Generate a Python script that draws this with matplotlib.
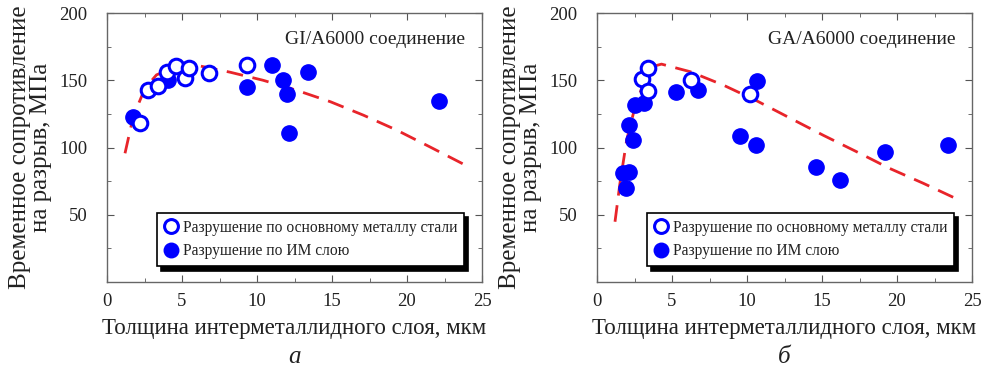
import matplotlib.pyplot as plt

plt.rcParams['font.family'] = ['Liberation Serif', 'DejaVu Serif']

# --- GI/A6000 data ---
gi_open_x = [2.2, 2.75, 3.4, 4.0, 4.6, 5.2, 5.47, 6.8, 9.3]
gi_open_y = [118, 142.7, 146, 156, 160.8, 152, 159, 155.6, 161]
gi_fill_x = [1.7, 4.04, 9.35, 11.0, 11.7, 12.0, 12.1, 13.4, 22.1]
gi_fill_y = [122.4, 150, 145, 161, 150, 139.5, 111, 156.3, 134.6]
gi_curve_x = [1.2, 1.75, 2.53, 3.3, 4.64, 6.2, 8.2, 10.4, 12.6, 14.9, 17.1, 19.3, 21.5, 24.1]
gi_curve_y = [95.7, 123, 144, 154, 160, 160.6, 156, 150, 142.7, 134, 124, 113, 100.6, 85.7]

# --- GA/A6000 data ---
ga_open_x = [3.0, 3.4, 3.4, 6.25, 10.2]
ga_open_y = [150.7, 159.3, 142.2, 150, 139.5]
ga_fill_x = [1.75, 2.15, 1.93, 2.1, 2.42, 2.5, 3.1, 5.27, 6.75, 9.5, 10.6, 10.65, 14.6, 16.2, 19.2, 23.4]
ga_fill_y = [80.8, 82, 69.6, 116.7, 105.6, 131.6, 132.8, 141.5, 142.7, 108.5, 101.9, 149.7, 85.7, 75.8, 96.9, 101.9]
ga_curve_x = [1.2, 1.53, 1.98, 2.53, 3.1, 3.64, 4.3, 6.2, 8.4, 10.6, 12.9, 15.1, 17.3, 19.5, 21.75, 23.9]
ga_curve_y = [44.8, 73.4, 105.6, 130, 147.7, 160, 162, 156.4, 146.5, 135, 121.7, 109, 96.9, 84.5, 73.4, 62.2]

xticks = [0, 5, 10, 15, 20, 25]
yticks = [50, 100, 150, 200]

panels = [
    (gi_open_x, gi_open_y, gi_fill_x, gi_fill_y, gi_curve_x, gi_curve_y, 'GI/A6000 соединение', 'а'),
    (ga_open_x, ga_open_y, ga_fill_x, ga_fill_y, ga_curve_x, ga_curve_y, 'GA/A6000 соединение', 'б'),
]

fig = plt.figure(figsize=(10.01, 3.74), dpi=100)
lefts = [107 / 1001, 597 / 1001]
blue = '#0000ff'
txt = '#222222'

for left, (ox, oy, fx, fy, cx, cy, name, letter) in zip(lefts, panels):
    ax = fig.add_axes([left, 92 / 374, 375 / 1001, 269 / 374])
    ax.plot(cx, cy, '--', color='#e8242a', lw=2.0, dashes=(6, 3.5), zorder=2)
    ax.plot(fx, fy, 'o', color=blue, ms=11, zorder=3,
            label='Разрушение по ИМ слою')
    ax.plot(ox, oy, 'o', mfc='white', mec=blue, mew=2.2, ms=10.5, zorder=4,
            label='Разрушение по основному металлу стали')
    ax.set_xlim(0, 25)
    ax.set_ylim(0, 200)
    ax.set_xticks(xticks)
    ax.set_yticks(yticks)
    ax.set_xticks([2.5, 7.5, 12.5, 17.5, 22.5], minor=True)
    ax.set_yticks([25, 75, 125, 175], minor=True)
    ax.tick_params(which='both', direction='in', top=True, right=True,
                   color='#555555', labelsize=13.5, labelcolor=txt)
    ax.tick_params(which='major', length=5)
    ax.tick_params(which='minor', length=3)
    ax.tick_params(axis='y', pad=14)
    ax.tick_params(axis='x', pad=8)
    for s in ax.spines.values():
        s.set_color('#666666')
        s.set_linewidth(1.0)
    ax.set_ylabel('Временное сопротивление\nна разрыв, МПа', fontsize=18,
                  color=txt, labelpad=5, linespacing=0.95)
    ax.set_xlabel('Толщина интерметаллидного слоя, мкм', fontsize=16.5,
                  color=txt, labelpad=6)
    ax.text(0.955, 0.9, name, transform=ax.transAxes, ha='right', va='center',
            fontsize=14, color=txt)
    ax.text(0.5, -0.28, letter, transform=ax.transAxes, ha='center', va='center',
            fontsize=18, style='italic', color=txt)
    h, l = ax.get_legend_handles_labels()
    leg = ax.legend(h[::-1], l[::-1], loc='lower left',
                    bbox_to_anchor=(0.133, 0.058), borderaxespad=0,
                    fontsize=11.2, handlelength=0.9, handletextpad=0.3,
                    borderpad=0.45, labelspacing=0.5, markerscale=0.95,
                    fancybox=False, framealpha=1, edgecolor='black',
                    shadow={'ox': 3, 'oy': -3, 'color': 'black', 'alpha': 1})
    leg.get_frame().set_linewidth(1.2)
    for t in leg.get_texts():
        t.set_color(txt)

fig.savefig('out.png', dpi=100)
